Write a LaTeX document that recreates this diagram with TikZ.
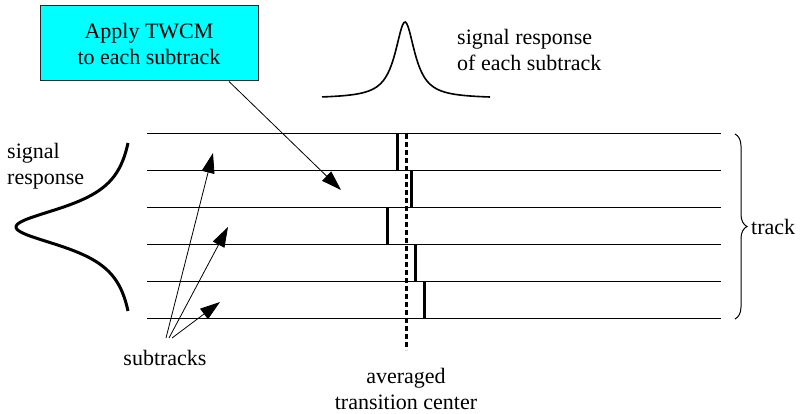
\documentclass[tikz,border=0pt]{standalone}
\usepackage{fontspec}
\setmainfont{Liberation Serif}
\usetikzlibrary{arrows.meta,decorations.pathreplacing}
\definecolor{boxcyan}{RGB}{0,255,255}

\begin{document}
\begin{tikzpicture}[x=1pt,y=-1pt]

    \tikzstyle{ann} = [font=\rmfamily\fontsize{22}{26}\selectfont, inner sep=0pt]
    \tikzstyle{bigarrow} = [-{Triangle[length=20pt,width=13pt]}, line width=.8pt]
    \tikzstyle{transbar} = [line width=3pt]

    \useasboundingbox (0,0) rectangle (807,414);

    % Box
    \node[ann, draw=black!85, line width=1pt, fill=boxcyan, minimum width=218,
        minimum height=75, align=center] (box) at (149,43.5)
        {Apply TWCM\\to each subtrack};

    % Subtracks
    \foreach \y [count=\i] in {134,171,208,245,282,319}
        \draw[line width=1pt] (147,\y) coordinate (L\i) -- (721,\y) coordinate (R\i);

    % Transition of each subtrack
    \foreach \x/\y in {397/134,411/171,387/208,415/245,424/282}
        \draw[transbar] (\x,\y) -- (\x,\y+37);

    % Averaged transition center
    \node[ann, align=center] (avg) at (406,389) {averaged\\transition center};
    \coordinate (avgtop) at (406,134);
    \coordinate (avgbot) at (406,350);
    \draw[line width=3pt, dash pattern=on 5pt off 3pt] (avgtop) -- (avgbot);

    % Signal response of each subtrack
    \draw[line width=1.6pt, domain=322:490, samples=120]
        plot (\x, {98.5-76.5/(1+pow((\x-405)/12,2))});
    \node[ann, align=left, anchor=west] (sigtop) at (457,50)
        {signal response\\of each subtrack};

    % Signal response across the track
    \draw[line width=3pt, domain=143:311, samples=120]
        plot ({137.9-121.9/(1+pow((\x-227)/25,2))}, \x);
    \node[ann, align=left, anchor=west] (sigleft) at (7,166)
        {signal\\response};

    % Track
    \draw[decorate, decoration={brace, amplitude=12pt}, line width=1pt]
        (735,134) -- (735,319);
    \node[ann, anchor=west] (track) at (751,227) {track};

    % Arrows
    \coordinate (tw) at (341,190);
    \draw[bigarrow] ([xshift=80pt]box.south) -- (tw);

    \node[ann] (sub) at (165,358) {subtracks};
    \foreach \sx/\tx/\ty [count=\i] in {166/213/153,169/228/227,172/220/302} {
        \coordinate (s\i) at (\sx,338);
        \coordinate (t\i) at (\tx,\ty);
        \draw[bigarrow] (s\i) -- (t\i);
    }

\end{tikzpicture}
\end{document}
